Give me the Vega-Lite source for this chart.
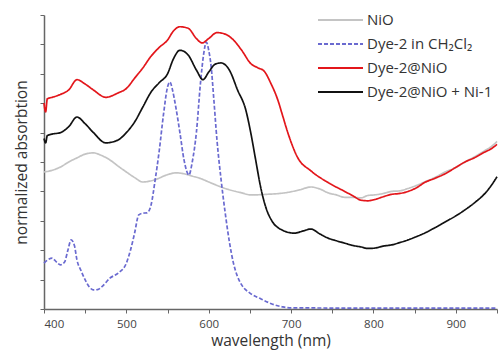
{
  "$schema": "https://vega.github.io/schema/vega-lite/v6.json",
  "width": 453,
  "height": 294,
  "autosize": "none",
  "padding": {"left": 44, "top": 15, "right": 6, "bottom": 42},
  "background": "white",
  "config": {"font": "Open Sans", "view": {"stroke": null}},
  "data": {"values": [
    {"s":"NiO","wl":400,"v":0.466},{"s":"NiO","wl":410,"v":0.472},{"s":"NiO","wl":420,"v":0.483},{"s":"NiO","wl":430,"v":0.5},{"s":"NiO","wl":440,"v":0.514},{"s":"NiO","wl":450,"v":0.527},{"s":"NiO","wl":460,"v":0.531},{"s":"NiO","wl":470,"v":0.522},{"s":"NiO","wl":480,"v":0.507},{"s":"NiO","wl":490,"v":0.486},{"s":"NiO","wl":500,"v":0.466},{"s":"NiO","wl":510,"v":0.447},{"s":"NiO","wl":520,"v":0.432},{"s":"NiO","wl":535,"v":0.44},{"s":"NiO","wl":550,"v":0.457},{"s":"NiO","wl":560,"v":0.463},{"s":"NiO","wl":570,"v":0.46},{"s":"NiO","wl":580,"v":0.452},{"s":"NiO","wl":590,"v":0.444},{"s":"NiO","wl":600,"v":0.432},{"s":"NiO","wl":620,"v":0.41},{"s":"NiO","wl":640,"v":0.395},{"s":"NiO","wl":651,"v":0.388},{"s":"NiO","wl":670,"v":0.39},{"s":"NiO","wl":692,"v":0.395},{"s":"NiO","wl":710,"v":0.405},{"s":"NiO","wl":724,"v":0.415},{"s":"NiO","wl":735,"v":0.408},{"s":"NiO","wl":745,"v":0.395},{"s":"NiO","wl":755,"v":0.388},{"s":"NiO","wl":765,"v":0.38},{"s":"NiO","wl":775,"v":0.38},{"s":"NiO","wl":785,"v":0.378},{"s":"NiO","wl":793,"v":0.386},{"s":"NiO","wl":801,"v":0.388},{"s":"NiO","wl":812,"v":0.393},{"s":"NiO","wl":822,"v":0.4},{"s":"NiO","wl":832,"v":0.402},{"s":"NiO","wl":842,"v":0.41},{"s":"NiO","wl":852,"v":0.42},{"s":"NiO","wl":862,"v":0.432},{"s":"NiO","wl":875,"v":0.448},{"s":"NiO","wl":887,"v":0.466},{"s":"NiO","wl":899,"v":0.48},{"s":"NiO","wl":911,"v":0.5},{"s":"NiO","wl":923,"v":0.518},{"s":"NiO","wl":936,"v":0.54},{"s":"NiO","wl":943,"v":0.552},{"s":"NiO","wl":950,"v":0.57},
    {"s":"Dye-2 in CH₂Cl₂","wl":400,"v":0.156},{"s":"Dye-2 in CH₂Cl₂","wl":405,"v":0.168},{"s":"Dye-2 in CH₂Cl₂","wl":410,"v":0.173},{"s":"Dye-2 in CH₂Cl₂","wl":415,"v":0.16},{"s":"Dye-2 in CH₂Cl₂","wl":420,"v":0.15},{"s":"Dye-2 in CH₂Cl₂","wl":425,"v":0.16},{"s":"Dye-2 in CH₂Cl₂","wl":429,"v":0.2},{"s":"Dye-2 in CH₂Cl₂","wl":433,"v":0.235},{"s":"Dye-2 in CH₂Cl₂","wl":437,"v":0.215},{"s":"Dye-2 in CH₂Cl₂","wl":440,"v":0.167},{"s":"Dye-2 in CH₂Cl₂","wl":445,"v":0.13},{"s":"Dye-2 in CH₂Cl₂","wl":450,"v":0.099},{"s":"Dye-2 in CH₂Cl₂","wl":455,"v":0.075},{"s":"Dye-2 in CH₂Cl₂","wl":460,"v":0.065},{"s":"Dye-2 in CH₂Cl₂","wl":465,"v":0.066},{"s":"Dye-2 in CH₂Cl₂","wl":470,"v":0.075},{"s":"Dye-2 in CH₂Cl₂","wl":480,"v":0.105},{"s":"Dye-2 in CH₂Cl₂","wl":490,"v":0.122},{"s":"Dye-2 in CH₂Cl₂","wl":500,"v":0.156},{"s":"Dye-2 in CH₂Cl₂","wl":505,"v":0.2},{"s":"Dye-2 in CH₂Cl₂","wl":510,"v":0.258},{"s":"Dye-2 in CH₂Cl₂","wl":515,"v":0.32},{"s":"Dye-2 in CH₂Cl₂","wl":520,"v":0.326},{"s":"Dye-2 in CH₂Cl₂","wl":525,"v":0.327},{"s":"Dye-2 in CH₂Cl₂","wl":530,"v":0.354},{"s":"Dye-2 in CH₂Cl₂","wl":535,"v":0.44},{"s":"Dye-2 in CH₂Cl₂","wl":540,"v":0.54},{"s":"Dye-2 in CH₂Cl₂","wl":545,"v":0.66},{"s":"Dye-2 in CH₂Cl₂","wl":550,"v":0.755},{"s":"Dye-2 in CH₂Cl₂","wl":553,"v":0.772},{"s":"Dye-2 in CH₂Cl₂","wl":556,"v":0.745},{"s":"Dye-2 in CH₂Cl₂","wl":560,"v":0.687},{"s":"Dye-2 in CH₂Cl₂","wl":565,"v":0.6},{"s":"Dye-2 in CH₂Cl₂","wl":570,"v":0.507},{"s":"Dye-2 in CH₂Cl₂","wl":576,"v":0.456},{"s":"Dye-2 in CH₂Cl₂","wl":580,"v":0.5},{"s":"Dye-2 in CH₂Cl₂","wl":585,"v":0.6},{"s":"Dye-2 in CH₂Cl₂","wl":590,"v":0.769},{"s":"Dye-2 in CH₂Cl₂","wl":594,"v":0.87},{"s":"Dye-2 in CH₂Cl₂","wl":597,"v":0.908},{"s":"Dye-2 in CH₂Cl₂","wl":600,"v":0.88},{"s":"Dye-2 in CH₂Cl₂","wl":603,"v":0.823},{"s":"Dye-2 in CH₂Cl₂","wl":606,"v":0.72},{"s":"Dye-2 in CH₂Cl₂","wl":610,"v":0.575},{"s":"Dye-2 in CH₂Cl₂","wl":615,"v":0.44},{"s":"Dye-2 in CH₂Cl₂","wl":620,"v":0.327},{"s":"Dye-2 in CH₂Cl₂","wl":625,"v":0.23},{"s":"Dye-2 in CH₂Cl₂","wl":630,"v":0.156},{"s":"Dye-2 in CH₂Cl₂","wl":635,"v":0.11},{"s":"Dye-2 in CH₂Cl₂","wl":640,"v":0.082},{"s":"Dye-2 in CH₂Cl₂","wl":650,"v":0.054},{"s":"Dye-2 in CH₂Cl₂","wl":663,"v":0.035},{"s":"Dye-2 in CH₂Cl₂","wl":676,"v":0.018},{"s":"Dye-2 in CH₂Cl₂","wl":690,"v":0.007},{"s":"Dye-2 in CH₂Cl₂","wl":700,"v":0.004},{"s":"Dye-2 in CH₂Cl₂","wl":800,"v":0.003},{"s":"Dye-2 in CH₂Cl₂","wl":950,"v":0.003},
    {"s":"Dye-2@NiO","wl":400,"v":0.7},{"s":"Dye-2@NiO","wl":402,"v":0.67},{"s":"Dye-2@NiO","wl":404,"v":0.715},{"s":"Dye-2@NiO","wl":410,"v":0.72},{"s":"Dye-2@NiO","wl":420,"v":0.73},{"s":"Dye-2@NiO","wl":430,"v":0.745},{"s":"Dye-2@NiO","wl":440,"v":0.78},{"s":"Dye-2@NiO","wl":450,"v":0.765},{"s":"Dye-2@NiO","wl":460,"v":0.745},{"s":"Dye-2@NiO","wl":475,"v":0.72},{"s":"Dye-2@NiO","wl":490,"v":0.735},{"s":"Dye-2@NiO","wl":500,"v":0.75},{"s":"Dye-2@NiO","wl":510,"v":0.785},{"s":"Dye-2@NiO","wl":520,"v":0.82},{"s":"Dye-2@NiO","wl":530,"v":0.86},{"s":"Dye-2@NiO","wl":540,"v":0.89},{"s":"Dye-2@NiO","wl":550,"v":0.915},{"s":"Dye-2@NiO","wl":557,"v":0.945},{"s":"Dye-2@NiO","wl":565,"v":0.96},{"s":"Dye-2@NiO","wl":575,"v":0.955},{"s":"Dye-2@NiO","wl":585,"v":0.92},{"s":"Dye-2@NiO","wl":592,"v":0.905},{"s":"Dye-2@NiO","wl":600,"v":0.92},{"s":"Dye-2@NiO","wl":610,"v":0.94},{"s":"Dye-2@NiO","wl":620,"v":0.935},{"s":"Dye-2@NiO","wl":630,"v":0.915},{"s":"Dye-2@NiO","wl":640,"v":0.88},{"s":"Dye-2@NiO","wl":651,"v":0.835},{"s":"Dye-2@NiO","wl":660,"v":0.82},{"s":"Dye-2@NiO","wl":667,"v":0.81},{"s":"Dye-2@NiO","wl":675,"v":0.77},{"s":"Dye-2@NiO","wl":684,"v":0.71},{"s":"Dye-2@NiO","wl":690,"v":0.655},{"s":"Dye-2@NiO","wl":696,"v":0.6},{"s":"Dye-2@NiO","wl":708,"v":0.515},{"s":"Dye-2@NiO","wl":724,"v":0.47},{"s":"Dye-2@NiO","wl":745,"v":0.43},{"s":"Dye-2@NiO","wl":765,"v":0.4},{"s":"Dye-2@NiO","wl":775,"v":0.385},{"s":"Dye-2@NiO","wl":785,"v":0.37},{"s":"Dye-2@NiO","wl":793,"v":0.368},{"s":"Dye-2@NiO","wl":801,"v":0.372},{"s":"Dye-2@NiO","wl":812,"v":0.382},{"s":"Dye-2@NiO","wl":822,"v":0.39},{"s":"Dye-2@NiO","wl":832,"v":0.393},{"s":"Dye-2@NiO","wl":842,"v":0.4},{"s":"Dye-2@NiO","wl":852,"v":0.412},{"s":"Dye-2@NiO","wl":862,"v":0.43},{"s":"Dye-2@NiO","wl":875,"v":0.445},{"s":"Dye-2@NiO","wl":887,"v":0.46},{"s":"Dye-2@NiO","wl":899,"v":0.48},{"s":"Dye-2@NiO","wl":911,"v":0.5},{"s":"Dye-2@NiO","wl":923,"v":0.515},{"s":"Dye-2@NiO","wl":936,"v":0.535},{"s":"Dye-2@NiO","wl":943,"v":0.545},{"s":"Dye-2@NiO","wl":950,"v":0.56},
    {"s":"Dye-2@NiO + Ni-1","wl":400,"v":0.58},{"s":"Dye-2@NiO + Ni-1","wl":402,"v":0.565},{"s":"Dye-2@NiO + Ni-1","wl":404,"v":0.59},{"s":"Dye-2@NiO + Ni-1","wl":410,"v":0.595},{"s":"Dye-2@NiO + Ni-1","wl":420,"v":0.6},{"s":"Dye-2@NiO + Ni-1","wl":430,"v":0.62},{"s":"Dye-2@NiO + Ni-1","wl":440,"v":0.653},{"s":"Dye-2@NiO + Ni-1","wl":450,"v":0.63},{"s":"Dye-2@NiO + Ni-1","wl":460,"v":0.6},{"s":"Dye-2@NiO + Ni-1","wl":475,"v":0.565},{"s":"Dye-2@NiO + Ni-1","wl":490,"v":0.575},{"s":"Dye-2@NiO + Ni-1","wl":500,"v":0.6},{"s":"Dye-2@NiO + Ni-1","wl":510,"v":0.636},{"s":"Dye-2@NiO + Ni-1","wl":520,"v":0.687},{"s":"Dye-2@NiO + Ni-1","wl":530,"v":0.738},{"s":"Dye-2@NiO + Ni-1","wl":540,"v":0.77},{"s":"Dye-2@NiO + Ni-1","wl":550,"v":0.8},{"s":"Dye-2@NiO + Ni-1","wl":557,"v":0.85},{"s":"Dye-2@NiO + Ni-1","wl":565,"v":0.88},{"s":"Dye-2@NiO + Ni-1","wl":575,"v":0.864},{"s":"Dye-2@NiO + Ni-1","wl":585,"v":0.813},{"s":"Dye-2@NiO + Ni-1","wl":593,"v":0.78},{"s":"Dye-2@NiO + Ni-1","wl":600,"v":0.806},{"s":"Dye-2@NiO + Ni-1","wl":608,"v":0.833},{"s":"Dye-2@NiO + Ni-1","wl":615,"v":0.837},{"s":"Dye-2@NiO + Ni-1","wl":625,"v":0.813},{"s":"Dye-2@NiO + Ni-1","wl":635,"v":0.745},{"s":"Dye-2@NiO + Ni-1","wl":645,"v":0.677},{"s":"Dye-2@NiO + Ni-1","wl":651,"v":0.6},{"s":"Dye-2@NiO + Ni-1","wl":657,"v":0.507},{"s":"Dye-2@NiO + Ni-1","wl":663,"v":0.415},{"s":"Dye-2@NiO + Ni-1","wl":670,"v":0.34},{"s":"Dye-2@NiO + Ni-1","wl":676,"v":0.303},{"s":"Dye-2@NiO + Ni-1","wl":688,"v":0.27},{"s":"Dye-2@NiO + Ni-1","wl":704,"v":0.258},{"s":"Dye-2@NiO + Ni-1","wl":714,"v":0.265},{"s":"Dye-2@NiO + Ni-1","wl":724,"v":0.272},{"s":"Dye-2@NiO + Ni-1","wl":735,"v":0.255},{"s":"Dye-2@NiO + Ni-1","wl":745,"v":0.241},{"s":"Dye-2@NiO + Ni-1","wl":755,"v":0.232},{"s":"Dye-2@NiO + Ni-1","wl":765,"v":0.224},{"s":"Dye-2@NiO + Ni-1","wl":775,"v":0.216},{"s":"Dye-2@NiO + Ni-1","wl":785,"v":0.211},{"s":"Dye-2@NiO + Ni-1","wl":793,"v":0.206},{"s":"Dye-2@NiO + Ni-1","wl":801,"v":0.207},{"s":"Dye-2@NiO + Ni-1","wl":812,"v":0.214},{"s":"Dye-2@NiO + Ni-1","wl":822,"v":0.218},{"s":"Dye-2@NiO + Ni-1","wl":832,"v":0.226},{"s":"Dye-2@NiO + Ni-1","wl":842,"v":0.235},{"s":"Dye-2@NiO + Ni-1","wl":852,"v":0.246},{"s":"Dye-2@NiO + Ni-1","wl":862,"v":0.258},{"s":"Dye-2@NiO + Ni-1","wl":875,"v":0.277},{"s":"Dye-2@NiO + Ni-1","wl":887,"v":0.296},{"s":"Dye-2@NiO + Ni-1","wl":899,"v":0.315},{"s":"Dye-2@NiO + Ni-1","wl":911,"v":0.337},{"s":"Dye-2@NiO + Ni-1","wl":923,"v":0.362},{"s":"Dye-2@NiO + Ni-1","wl":936,"v":0.395},{"s":"Dye-2@NiO + Ni-1","wl":943,"v":0.42},{"s":"Dye-2@NiO + Ni-1","wl":950,"v":0.45}
  ]},
  "mark": {"type": "line", "strokeWidth": 1.7, "interpolate": "monotone"},
  "encoding": {
    "x": {
      "field": "wl", "type": "quantitative",
      "scale": {"domain": [400, 950], "nice": false, "zero": false},
      "axis": {
        "title": "wavelength (nm)", "values": [400,450,500,550,600,650,700,750,800,850,900,950],
        "labelExpr": "datum.value % 100 == 0 ? datum.label : ''",
        "grid": false, "domainColor": "#666", "domainWidth": 1.5, "tickColor": "#666", "tickSize": 4,
        "labelFont": "Open Sans", "labelFontSize": 11.5, "labelColor": "#444", "labelPadding": 5,
        "titleFont": "Open Sans", "titleFontSize": 15.5, "titleFontWeight": "normal", "titleColor": "#333", "titlePadding": 4
      }
    },
    "y": {
      "field": "v", "type": "quantitative",
      "scale": {"domain": [0, 1], "nice": false},
      "axis": {
        "title": "normalized absorbtion", "values": [0,0.1,0.2,0.3,0.4,0.5,0.6,0.7,0.8,0.9,1],
        "labels": false, "grid": false, "domainColor": "#666", "domainWidth": 1.5, "tickColor": "#666", "tickSize": 4,
        "titleFont": "Open Sans", "titleFontSize": 15.5, "titleFontWeight": "normal", "titleColor": "#333", "titlePadding": 10
      }
    },
    "color": {
      "field": "s", "type": "nominal",
      "scale": {"domain": ["NiO", "Dye-2 in CH₂Cl₂", "Dye-2@NiO", "Dye-2@NiO + Ni-1"], "range": ["#c4c4c4", "#6a6ad0", "#e3161b", "#111111"]},
      "legend": {
        "title": null, "orient": "none", "legendX": 273, "legendY": -3, "padding": 0,
        "symbolType": "stroke", "symbolSize": 2025, "symbolStrokeWidth": 1.8, "clipHeight": 16,
        "labelFont": "Open Sans", "labelFontSize": 15, "labelColor": "#333", "rowPadding": 8, "labelOffset": 3
      }
    },
    "strokeDash": {
      "field": "s", "type": "nominal",
      "scale": {"domain": ["NiO", "Dye-2 in CH₂Cl₂", "Dye-2@NiO", "Dye-2@NiO + Ni-1"], "range": [[1,0],[4,2],[1,0],[1,0]]},
      "legend": null
    },
    "order": {"field": "wl", "type": "quantitative"}
  }
}
